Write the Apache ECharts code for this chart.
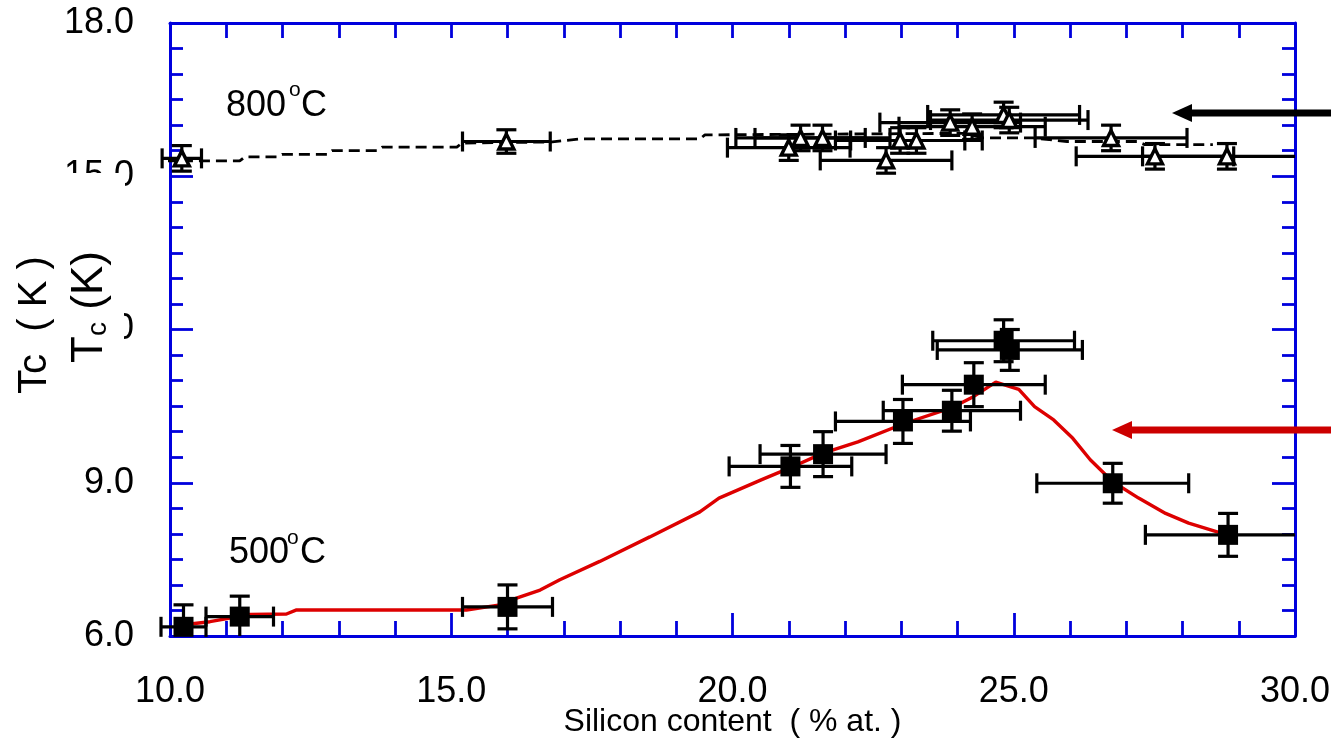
<!DOCTYPE html>
<html>
<head>
<meta charset="UTF-8">
<title>Tc vs Silicon content</title>
<script src="https://cdn.jsdelivr.net/npm/echarts@6/dist/echarts.min.js"></script>
<style>
  html, body { margin: 0; padding: 0; background: #fff; }
  #main { width: 1331px; height: 743px; }
</style>
</head>
<body>
<div id="main"></div>
<script>
// 500 C samples (squares): silicon %, Tc, x error, y error
var sqX    = [10.24, 11.24, 16.0, 21.03, 21.61, 23.03, 23.9, 24.29, 24.82, 24.93, 26.76, 28.81];
var sqY    = [6.18, 6.38, 6.57, 9.32, 9.56, 10.2, 10.41, 10.92, 11.78, 11.6, 8.99, 7.98];
var sqXErr = [0.4, 0.6, 0.8, 1.09, 1.12, 1.2, 1.22, 1.27, 1.26, 1.29, 1.35, 1.47];
var sqYErr = [0.43, 0.4, 0.43, 0.41, 0.44, 0.43, 0.4, 0.43, 0.41, 0.4, 0.39, 0.42];

// 800 C samples (triangles)
var trX    = [10.21, 15.98, 21.0, 21.21, 21.6, 22.73, 22.98, 23.27, 23.87, 24.26, 24.82, 24.92, 26.73, 27.51, 28.79];
var trY    = [15.35, 15.68, 15.56, 15.75, 15.75, 15.31, 15.7, 15.7, 16.05, 15.97, 16.2, 16.1, 15.75, 15.39, 15.39];
var trXErr = [0.35, 0.78, 1.09, 1.15, 1.2, 1.17, 1.15, 1.17, 1.25, 1.3, 1.35, 1.4, 1.35, 1.4, 1.5];
var trYErr = [0.25, 0.23, 0.25, 0.25, 0.25, 0.25, 0.25, 0.25, 0.25, 0.25, 0.25, 0.25, 0.25, 0.25, 0.25];

// red fit curve through the 500 C data
var redX = [10.24, 10.71, 11.42, 12.07, 12.25, 15.27, 15.87, 16.16, 16.58, 16.93, 17.64, 18.53, 19.42, 19.76, 20.52, 21.02, 21.61, 22.23, 23.03, 23.9, 24.29, 24.68, 25.09, 25.37, 25.71, 26.05, 26.36, 26.76, 27.22, 27.7, 28.11, 28.79];
var redY = [6.22, 6.28, 6.42, 6.43, 6.51, 6.51, 6.61, 6.74, 6.9, 7.1, 7.46, 7.94, 8.43, 8.7, 9.06, 9.29, 9.58, 9.8, 10.15, 10.47, 10.69, 10.97, 10.83, 10.49, 10.23, 9.87, 9.45, 9.02, 8.7, 8.4, 8.21, 7.98];

// dashed running line through the 800 C data
var dashX = [9.91, 11.24, 11.33, 11.9, 11.99, 12.79, 12.88, 13.68, 13.77, 15.1, 15.19, 16.76, 17.29, 19.42, 19.51, 24.1, 24.45, 25.34, 25.95, 27.19, 27.33, 28.54];
var dashY = [15.3, 15.3, 15.38, 15.38, 15.43, 15.43, 15.5, 15.5, 15.57, 15.57, 15.65, 15.67, 15.73, 15.73, 15.81, 15.84, 15.75, 15.75, 15.68, 15.68, 15.62, 15.62];

var yTicks = [6, 9, 12, 15, 18];

var BLUE = '#0000dd';
var FONT = '"Liberation Sans", Arial, sans-serif';

function zip(a, b, c, d) {
  var out = [];
  for (var i = 0; i < a.length; i++) {
    out.push(c ? [a[i], b[i], c[i], d[i]] : [a[i], b[i]]);
  }
  return out;
}

function errorBars(params, api) {
  var x = api.value(0), y = api.value(1), xe = api.value(2), ye = api.value(3);
  var l = api.coord([x - xe, y]);
  var r = api.coord([Math.min(x + xe, 30), y]);
  var t = api.coord([x, y + ye]);
  var b = api.coord([x, Math.max(y - ye, 6)]);
  var st = { stroke: '#000', lineWidth: 3.2 };
  var c = 10;
  function seg(x1, y1, x2, y2) {
    return { type: 'line', shape: { x1: x1, y1: y1, x2: x2, y2: y2 }, style: st };
  }
  var kids = [
    seg(l[0], l[1], r[0], r[1]),
    seg(t[0], t[1], b[0], b[1]),
    seg(l[0], l[1] - c, l[0], l[1] + c),
    seg(t[0] - 10, t[1], t[0] + 10, t[1])
  ];
  if (x + xe <= 30) kids.push(seg(r[0], r[1] - c, r[0], r[1] + c));
  if (y - ye >= 6) kids.push(seg(b[0] - 10, b[1], b[0] + 10, b[1]));
  return { type: 'group', children: kids };
}

var chart = echarts.init(document.getElementById('main'));

var tickLine = { color: BLUE, width: 2.8 };

chart.setOption({
  animation: false,
  backgroundColor: '#fff',
  textStyle: { fontFamily: FONT },
  grid: { left: 170, right: 36, top: 23, bottom: 107, containLabel: false, outerBoundsMode: 'none' },
  xAxis: [{
    type: 'value', position: 'bottom', min: 10, max: 30, interval: 5,
    axisLine: { lineStyle: { color: BLUE, width: 3 } },
    axisTick: { inside: true, length: 23, lineStyle: tickLine },
    minorTick: { show: true, splitNumber: 5, length: 15, lineStyle: tickLine },
    splitLine: { show: false },
    axisLabel: { fontSize: 36, color: '#000', margin: 38, fontFamily: FONT,
      formatter: function (v) { return v.toFixed(1); } },
    name: 'Silicon content  ( % at. )', nameLocation: 'middle', nameGap: 70,
    nameMoveOverlap: false,
    nameTextStyle: { fontSize: 32, color: '#000', fontFamily: FONT }
  }, {
    type: 'value', position: 'top', min: 10, max: 30, interval: 5,
    axisLine: { lineStyle: { color: BLUE, width: 3 } },
    axisTick: { inside: true, length: 15, lineStyle: tickLine },
    minorTick: { show: true, splitNumber: 5, length: 15, lineStyle: tickLine },
    splitLine: { show: false },
    axisLabel: { show: false }
  }],
  yAxis: [{
    type: 'value', position: 'left', min: yTicks[0], max: yTicks[yTicks.length - 1], interval: 3,
    axisLine: { show: true, lineStyle: { color: BLUE, width: 3 } },
    axisTick: { show: true, inside: true, length: 23, lineStyle: tickLine },
    minorTick: { show: true, splitNumber: 6, length: 13, lineStyle: tickLine },
    splitLine: { show: false },
    axisLabel: { fontSize: 36, color: '#000', margin: 36, fontFamily: FONT,
      formatter: function (v) { return v.toFixed(1); } }
  }, {
    type: 'value', position: 'right', min: 6, max: 18, interval: 3,
    axisLine: { show: true, lineStyle: { color: BLUE, width: 3 } },
    axisTick: { show: true, inside: true, length: 23, lineStyle: tickLine },
    minorTick: { show: true, splitNumber: 6, length: 13, lineStyle: tickLine },
    splitLine: { show: false },
    axisLabel: { show: false }
  }],
  series: [{
    name: '800 fit', type: 'line', data: zip(dashX, dashY), showSymbol: false, symbol: 'none',
    clip: false, z: 2,
    lineStyle: { color: '#000', width: 2.8, type: [11, 6] }
  }, {
    name: '500 fit', type: 'line', data: zip(redX, redY), showSymbol: false, symbol: 'none',
    z: 2,
    lineStyle: { color: '#dd0000', width: 3.4 }
  }, {
    name: '800 err', type: 'custom', renderItem: errorBars, clip: false, z: 3,
    encode: { x: 0, y: 1 },
    data: zip(trX, trY, trXErr, trYErr)
  }, {
    name: '500 err', type: 'custom', renderItem: errorBars, clip: false, z: 3,
    encode: { x: 0, y: 1 },
    data: zip(sqX, sqY, sqXErr, sqYErr)
  }, {
    name: '800C', type: 'scatter', data: zip(trX, trY), symbol: 'triangle', symbolSize: 15,
    z: 4,
    itemStyle: { color: '#fff', borderColor: '#000', borderWidth: 3.4, opacity: 1 }
  }, {
    name: '500C', type: 'scatter', data: zip(sqX, sqY), symbol: 'rect', symbolSize: 20,
    z: 4,
    itemStyle: { color: '#000', opacity: 1 }
  }],
  graphic: [
    // pieces of the 15.0 and 12.0 labels are lost in the original
    { type: 'rect', z: 100, shape: { x: 48, y: 173, width: 77, height: 24 }, style: { fill: '#fff' } },
    { type: 'rect', z: 100, shape: { x: 40, y: 308, width: 84, height: 46 }, style: { fill: '#fff' } },
    { type: 'text', z: 101, x: 35, y: 325, rotation: Math.PI / 2,
      style: { text: 'Tc  ( K )', font: '40px ' + FONT, fill: '#000', align: 'center', verticalAlign: 'middle' } },
    { type: 'text', z: 101, x: 90, y: 307, rotation: Math.PI / 2,
      style: { text: '{a|T}{b|c}{a| (K)}', align: 'center', verticalAlign: 'middle', fill: '#000',
        rich: {
          a: { fontSize: 44, fontFamily: FONT, fill: '#000' },
          b: { fontSize: 28, fontFamily: FONT, fill: '#000', padding: [16, 0, 0, 0] }
        } } },
    { type: 'text', z: 101, x: 226, y: 106, style: { text: '800', font: '36px ' + FONT, fill: '#000', verticalAlign: 'middle' } },
    { type: 'text', z: 101, x: 289, y: 90, style: { text: 'o', font: '21px ' + FONT, fill: '#000', verticalAlign: 'middle' } },
    { type: 'text', z: 101, x: 301, y: 106, style: { text: 'C', font: '36px ' + FONT, fill: '#000', verticalAlign: 'middle' } },
    { type: 'text', z: 101, x: 229, y: 553, style: { text: '500', font: '36px ' + FONT, fill: '#000', verticalAlign: 'middle' } },
    { type: 'text', z: 101, x: 287, y: 538, style: { text: 'o', font: '21px ' + FONT, fill: '#000', verticalAlign: 'middle' } },
    { type: 'text', z: 101, x: 300, y: 553, style: { text: 'C', font: '36px ' + FONT, fill: '#000', verticalAlign: 'middle' } },
    // arrows on the right
    { type: 'line', z: 101, shape: { x1: 1188, y1: 113, x2: 1331, y2: 113 }, style: { stroke: '#000', lineWidth: 7 } },
    { type: 'polygon', z: 101, shape: { points: [[1172, 113], [1192, 104], [1192, 122]] }, style: { fill: '#000' } },
    { type: 'line', z: 101, shape: { x1: 1128, y1: 430, x2: 1331, y2: 430 }, style: { stroke: '#cc0000', lineWidth: 7 } },
    { type: 'polygon', z: 101, shape: { points: [[1112, 430], [1132, 421], [1132, 439]] }, style: { fill: '#cc0000' } }
  ]
});
</script>
</body>
</html>
